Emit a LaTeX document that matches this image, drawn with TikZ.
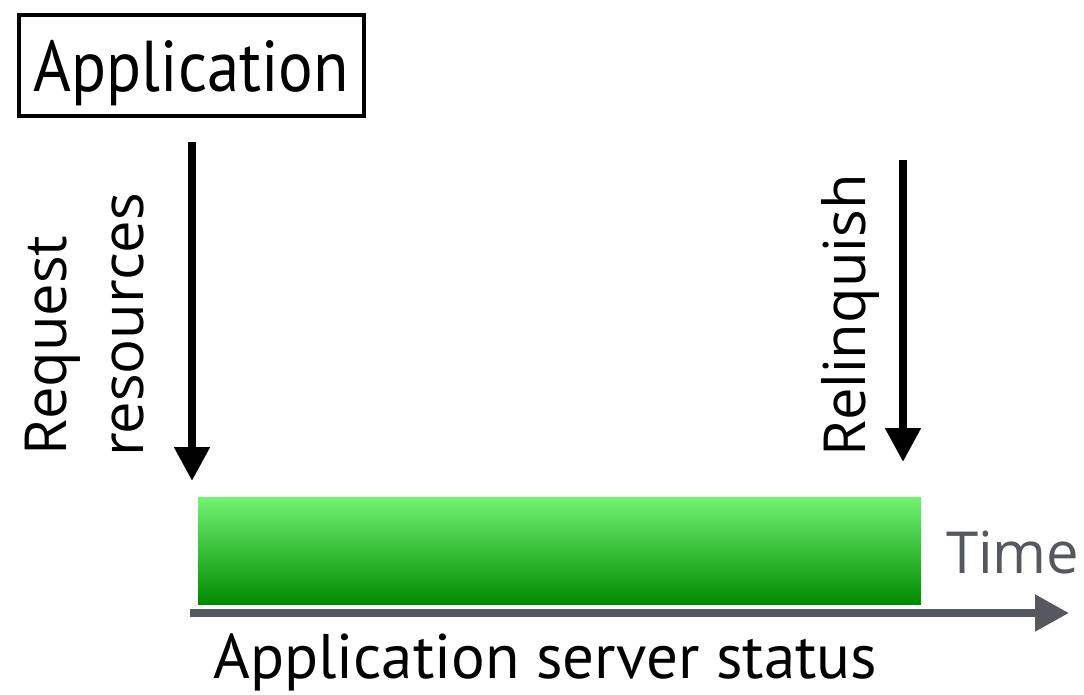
\documentclass[tikz,border=0pt]{standalone}
\usepackage{fontspec}
\usepackage{graphicx}
\usetikzlibrary{arrows.meta}
\newfontfamily\osfont{Open Sans}
\newfontfamily\gsfont[Ligatures=NoCommon]{PT Sans}
\definecolor{axisgray}{HTML}{55585E}
\definecolor{gtop}{HTML}{72F472}
\definecolor{gbot}{HTML}{008A00}
\tikzset{
  vlabel/.style={rotate=90, anchor=base west, inner sep=0pt, font=\osfont\fontsize{58}{64}\selectfont},
  downarrow/.style={line width=8pt, -{Triangle[width=34pt,length=34pt]}},
}
\begin{document}
\begin{tikzpicture}[x=1pt,y=-1pt]
\useasboundingbox (0,0) rectangle (1084,695);
\node[draw, line width=4.5pt, minimum width=345pt, minimum height=101pt, inner sep=0pt,
      text depth=0pt, font=\gsfont\fontsize{72}{80}\selectfont] (app) at (191.5,65.5) {\scalebox{0.9}[1]{Application}};
\coordinate (rqtop) at (192,142);
\coordinate (rqend) at (192,481);
\draw[downarrow] (rqtop) -- (rqend);
\coordinate (rltop) at (903,160);
\coordinate (rlend) at (903,462);
\draw[downarrow] (rltop) -- (rlend);
\node[vlabel] (req) at (66,456) {Request};
\node[vlabel] (res) at (143,457) {resources};
\node[vlabel] (rel) at (865,457) {Relinquish};
\node[minimum width=723pt, minimum height=107pt, inner sep=0pt, top color=gtop, bottom color=gbot] (bar) at (559.5,550.5) {};
\coordinate (ax0) at (190,613);
\coordinate (ax1) at (1069,613);
\draw[axisgray, line width=8pt, -{Triangle[width=35pt,length=34pt]}] (ax0) -- (ax1);
\node[anchor=base west, inner sep=0pt, text=axisgray, font=\osfont\fontsize{58}{64}\selectfont] (time) at (946,573) {Time};
\node[anchor=base west, inner sep=0pt, font=\gsfont\fontsize{63}{70}\selectfont] (status) at (213,678) {Application server status};
\end{tikzpicture}
\end{document}
